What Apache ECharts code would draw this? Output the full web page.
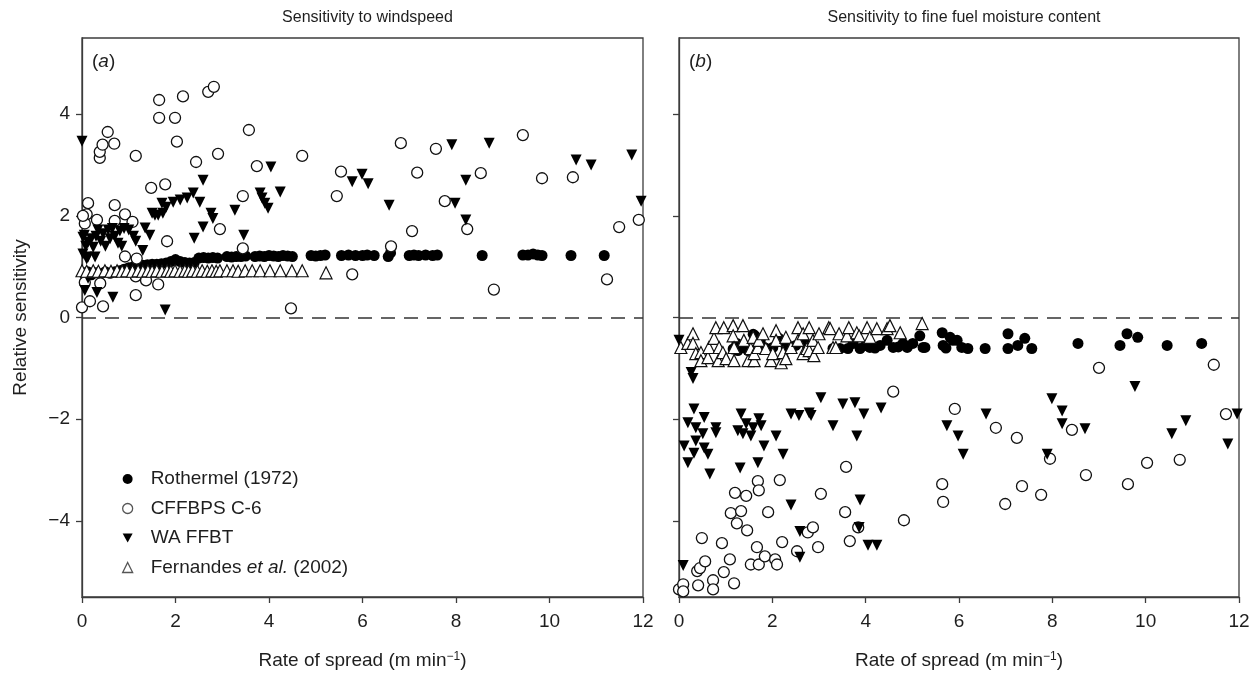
<!DOCTYPE html>
<html>
<head>
<meta charset="utf-8">
<script src="https://cdn.jsdelivr.net/npm/echarts@6/dist/echarts.min.js"></script>
<style>
html,body{margin:0;padding:0;background:#fff;}
#chart{width:1258px;height:676px;}
</style>
</head>
<body>
<div id="chart"></div>
<script>
// ---------- Data ----------
const seriesNames = ['Rothermel (1972)', 'CFFBPS C-6', 'WA FFBT', 'Fernandes et al. (2002)'];
const panelTitles = ['Sensitivity to windspeed', 'Sensitivity to fine fuel moisture content'];
const panelLetters = ['a', 'b'];
const xTicks = [0, 2, 4, 6, 8, 10, 12];
const yTicks = [-4, -2, 0, 2, 4];

// Panel (a): sensitivity to windspeed
const rothermelWind = [[0.05,0.86],[0.12,0.9],[0.2,0.84],[0.3,0.88],[0.4,0.86],[0.5,0.9],[0.6,0.87],[0.7,0.9],[0.8,0.92],[0.9,0.95],[1.0,0.98],[1.1,1.0],[1.2,1.02],[1.3,1.03],[1.4,1.04],[1.5,1.05],[1.6,1.05],[1.7,1.06],[1.8,1.07],[1.9,1.1],[2.0,1.14],[2.1,1.1],[2.2,1.08],[2.3,1.07],[2.4,1.08],[2.5,1.17],[2.6,1.18],[2.7,1.17],[2.8,1.18],[2.9,1.17],[3.1,1.2],[3.2,1.19],[3.3,1.2],[3.4,1.2],[3.5,1.21],[3.7,1.2],[3.8,1.21],[3.9,1.2],[4.0,1.22],[4.1,1.21],[4.2,1.2],[4.3,1.22],[4.4,1.21],[4.5,1.2],[4.9,1.22],[5.0,1.21],[5.1,1.22],[5.2,1.23],[5.55,1.22],[5.7,1.23],[5.85,1.22],[6.0,1.22],[6.1,1.23],[6.25,1.22],[6.55,1.2],[6.6,1.27],[7.0,1.22],[7.1,1.23],[7.2,1.22],[7.35,1.23],[7.5,1.22],[7.6,1.23],[8.56,1.22],[9.43,1.23],[9.54,1.23],[9.65,1.25],[9.75,1.23],[9.84,1.22],[10.46,1.22],[11.17,1.22]];
const cffbpsWind = [[0.0,0.2],[0.17,0.32],[0.45,0.22],[0.06,0.69],[0.39,0.67],[0.13,2.25],[0.1,2.03],[0.06,1.85],[0.32,1.92],[0.02,2.0],[0.38,3.14],[0.38,3.26],[0.44,3.4],[0.55,3.65],[0.69,3.42],[1.15,3.18],[0.7,2.21],[0.7,1.9],[0.92,2.03],[1.08,1.88],[0.92,1.2],[1.17,1.16],[1.15,0.81],[1.15,0.44],[1.37,0.73],[1.63,0.65],[1.48,2.55],[1.78,2.62],[1.82,1.5],[1.65,4.28],[1.65,3.93],[1.99,3.93],[2.03,3.46],[2.16,4.35],[2.44,3.06],[2.7,4.44],[2.82,4.54],[2.91,3.22],[2.95,1.74],[3.44,2.39],[3.44,1.36],[3.57,3.69],[3.74,2.98],[4.47,0.18],[4.71,3.18],[5.45,2.39],[5.54,2.87],[5.78,0.85],[6.61,1.4],[6.82,3.43],[7.17,2.85],[7.06,1.7],[7.57,3.32],[7.76,2.29],[8.24,1.74],[8.53,2.84],[8.81,0.55],[9.43,3.59],[9.84,2.74],[10.5,2.76],[11.23,0.75],[11.49,1.78],[11.91,1.92]];
const waWind = [[0,3.47],[0.02,1.58],[0.05,1.62],[0.08,1.4],[0.13,1.48],[0.02,1.25],[0.1,1.15],[0.13,1.19],[0.2,1.55],[0.24,1.38],[0.28,1.19],[0.3,1.6],[0.34,1.72],[0.4,1.5],[0.45,1.65],[0.5,1.4],[0.56,1.72],[0.6,1.55],[0.65,1.75],[0.7,1.6],[0.77,1.46],[0.81,1.7],[0.85,1.4],[0.9,1.75],[1.0,1.72],[1.1,1.6],[1.15,1.5],[1.3,1.32],[1.35,1.76],[1.45,1.62],[1.5,2.05],[1.56,2.01],[1.63,2.01],[1.71,2.25],[1.73,2.05],[1.8,2.17],[1.95,2.27],[2.1,2.31],[2.25,2.35],[2.38,2.45],[2.4,1.56],[2.52,2.27],[2.59,2.7],[2.59,1.78],[2.76,2.05],[2.8,1.95],[3.27,2.11],[3.46,1.62],[3.81,2.45],[3.85,2.35],[3.91,2.25],[3.98,2.15],[4.04,2.96],[4.24,2.47],[0.06,0.53],[0.13,0.77],[0.32,0.49],[0.66,0.4],[1.78,0.15],[5.78,2.67],[5.99,2.82],[6.12,2.63],[6.57,2.21],[7.91,3.4],[7.98,2.25],[8.21,2.7],[8.21,1.92],[8.71,3.43],[10.57,3.1],[10.89,3.0],[11.76,3.2],[11.96,2.29]];
const fernandesWind = [[0.0,0.92],[0.1,0.91],[0.24,0.92],[0.35,0.91],[0.49,0.92],[0.62,0.91],[0.75,0.92],[0.86,0.91],[0.96,0.92],[1.08,0.91],[1.2,0.92],[1.3,0.91],[1.41,0.92],[1.5,0.91],[1.6,0.92],[1.71,0.91],[1.82,0.92],[1.9,0.91],[1.99,0.92],[2.1,0.91],[2.2,0.92],[2.28,0.91],[2.37,0.92],[2.47,0.91],[2.57,0.92],[2.68,0.91],[2.78,0.92],[2.87,0.91],[2.95,0.92],[3.1,0.92],[3.23,0.92],[3.34,0.91],[3.49,0.92],[3.64,0.92],[3.81,0.92],[4.02,0.92],[4.24,0.92],[4.49,0.92],[4.71,0.92],[5.22,0.88]];

// Panel (b): sensitivity to fine fuel moisture content
const rothermelMoist = [[1.16,-0.62],[1.24,-0.51],[1.26,-0.65],[1.37,-0.59],[1.48,-0.65],[1.59,-0.33],[1.63,-0.36],[1.74,-0.45],[1.85,-0.6],[2.01,-0.59],[2.14,-0.41],[2.23,-0.49],[2.3,-0.62],[2.5,-0.55],[2.7,-0.5],[3.3,-0.61],[3.45,-0.61],[3.62,-0.61],[3.73,-0.51],[3.88,-0.61],[4.0,-0.55],[4.09,-0.59],[4.2,-0.6],[4.31,-0.55],[4.46,-0.45],[4.59,-0.59],[4.7,-0.58],[4.8,-0.51],[4.89,-0.59],[5.01,-0.51],[5.16,-0.36],[5.23,-0.59],[5.27,-0.59],[5.64,-0.3],[5.66,-0.55],[5.72,-0.6],[5.81,-0.39],[5.87,-0.45],[5.96,-0.45],[6.06,-0.59],[6.19,-0.61],[6.56,-0.61],[7.05,-0.32],[7.05,-0.61],[7.26,-0.55],[7.41,-0.41],[7.56,-0.61],[8.55,-0.51],[9.45,-0.55],[9.6,-0.32],[9.83,-0.39],[10.46,-0.55],[11.2,-0.51]];
const cffbpsMoist = [[0.0,-5.35],[0.09,-5.25],[0.09,-5.39],[0.41,-5.27],[0.73,-5.17],[0.73,-5.35],[0.39,-4.99],[0.45,-4.93],[0.56,-4.8],[0.49,-4.34],[0.92,-4.44],[0.96,-5.01],[1.09,-4.76],[1.18,-5.23],[1.2,-3.45],[1.44,-3.51],[1.11,-3.85],[1.33,-3.81],[1.24,-4.05],[1.46,-4.19],[1.69,-3.22],[1.71,-3.4],[1.91,-3.83],[2.16,-3.2],[1.67,-4.52],[1.54,-4.86],[1.71,-4.86],[1.84,-4.7],[2.06,-4.76],[2.1,-4.86],[2.21,-4.42],[2.53,-4.6],[2.76,-4.23],[2.87,-4.13],[2.98,-4.52],[3.04,-3.47],[3.58,-2.94],[3.56,-3.83],[3.66,-4.4],[3.84,-4.13],[4.82,-3.99],[4.59,-1.46],[5.64,-3.28],[5.66,-3.63],[5.91,-1.8],[6.79,-2.17],[7.24,-2.37],[6.99,-3.67],[7.35,-3.32],[7.76,-3.49],[7.95,-2.78],[8.42,-2.21],[8.72,-3.1],[9.0,-0.99],[9.62,-3.28],[10.03,-2.86],[10.73,-2.8],[11.46,-0.93],[11.72,-1.9]];
const waMoist = [[0.0,-0.45],[0.26,-1.08],[0.3,-1.2],[0.32,-1.8],[0.54,-1.97],[0.19,-2.07],[0.36,-2.17],[0.51,-2.29],[0.79,-2.17],[0.79,-2.27],[0.11,-2.53],[0.36,-2.43],[0.54,-2.57],[0.32,-2.67],[0.62,-2.69],[0.19,-2.86],[0.66,-3.08],[0.09,-4.88],[1.33,-1.9],[1.26,-2.23],[1.44,-2.09],[1.59,-2.17],[1.71,-1.99],[1.76,-2.13],[1.37,-2.29],[1.54,-2.33],[1.82,-2.53],[2.08,-2.33],[2.23,-2.69],[1.69,-2.86],[1.31,-2.96],[2.4,-1.9],[2.57,-1.93],[2.79,-1.88],[2.83,-1.93],[3.04,-1.58],[3.3,-2.13],[3.51,-1.7],[3.77,-1.68],[3.96,-1.9],[4.33,-1.78],[3.81,-2.33],[2.4,-3.69],[2.59,-4.21],[2.59,-4.72],[3.88,-3.59],[3.86,-4.13],[4.05,-4.48],[4.24,-4.48],[5.74,-2.13],[5.98,-2.33],[6.09,-2.69],[6.58,-1.9],[7.89,-2.69],[7.99,-1.6],[8.21,-1.84],[8.21,-2.09],[8.7,-2.19],[9.77,-1.36],[10.56,-2.29],[10.86,-2.03],[11.76,-2.49],[11.96,-1.9]];
const fernandesMoist = [[0.04,-0.59],[0.19,-0.51],[0.3,-0.32],[0.3,-0.51],[0.36,-0.71],[0.47,-0.69],[0.47,-0.85],[0.62,-0.79],[0.64,-0.59],[0.75,-0.41],[0.79,-0.2],[0.84,-0.85],[0.86,-0.59],[0.94,-0.69],[0.96,-0.2],[1.01,-0.81],[1.16,-0.16],[1.16,-0.36],[1.18,-0.59],[1.18,-0.85],[1.37,-0.16],[1.39,-0.45],[1.48,-0.85],[1.54,-0.61],[1.59,-0.39],[1.61,-0.85],[1.61,-0.71],[1.69,-0.59],[1.71,-0.45],[1.8,-0.32],[1.86,-0.61],[1.97,-0.85],[2.01,-0.71],[2.08,-0.26],[2.08,-0.45],[2.19,-0.89],[2.23,-0.69],[2.29,-0.81],[2.29,-0.39],[2.4,-0.59],[2.55,-0.2],[2.55,-0.45],[2.66,-0.71],[2.66,-0.32],[2.74,-0.61],[2.79,-0.2],[2.79,-0.65],[2.87,-0.45],[2.89,-0.75],[2.98,-0.59],[3.0,-0.32],[3.21,-0.2],[3.24,-0.22],[3.3,-0.59],[3.36,-0.59],[3.43,-0.32],[3.6,-0.36],[3.64,-0.2],[3.81,-0.3],[3.86,-0.36],[4.03,-0.2],[4.09,-0.39],[4.24,-0.22],[4.46,-0.22],[4.52,-0.16],[4.74,-0.3],[5.21,-0.12]];

const panelData = [
  [rothermelWind, cffbpsWind, waWind, fernandesWind],
  [rothermelMoist, cffbpsMoist, waMoist, fernandesMoist]
];

// ---------- Styles ----------
const FONT = '"Liberation Sans", Arial, Helvetica, sans-serif';
const INK = '#1e1e1e';
const AXIS = '#3c3c3c';
const markerStyles = [
  { symbol: 'circle', symbolSize: 11, symbolRotate: 0, itemStyle: { color: '#000', borderColor: '#000', borderWidth: 0, opacity: 1 } },
  { symbol: 'circle', symbolSize: 11, symbolRotate: 0, itemStyle: { color: '#fff', borderColor: '#111', borderWidth: 1.3, opacity: 1 } },
  { symbol: 'triangle', symbolSize: 11, symbolRotate: 180, itemStyle: { color: '#000', borderColor: '#000', borderWidth: 0, opacity: 1 } },
  { symbol: 'triangle', symbolSize: 12, symbolRotate: 0, itemStyle: { color: '#fff', borderColor: '#111', borderWidth: 1.2, opacity: 1 } }
];
const legendIcons = [
  'circle',
  'circle',
  'path://M0,0 L10,0 L5,9 Z',
  'triangle'
];
const legendItemStyles = [
  { color: '#000', borderWidth: 0 },
  { color: '#fff', borderColor: '#555', borderWidth: 1.3 },
  { color: '#000', borderWidth: 0 },
  { color: '#fff', borderColor: '#555', borderWidth: 1.3 }
];

const grids = [
  { left: 82, top: 38, width: 561, height: 559 },
  { left: 679, top: 38, width: 560, height: 559 }
];

const fmtNum = v => (v < 0 ? '\u2212' + Math.abs(v) : String(v));

const chart = echarts.init(document.getElementById('chart'), null, { renderer: 'canvas' });

const series = [];
panelData.forEach((sets, p) => {
  sets.forEach((data, k) => {
    const s = {
      type: 'scatter',
      name: seriesNames[k],
      xAxisIndex: p,
      yAxisIndex: p,
      data: data,
      symbol: markerStyles[k].symbol,
      symbolSize: markerStyles[k].symbolSize,
      symbolRotate: markerStyles[k].symbolRotate,
      itemStyle: markerStyles[k].itemStyle,
      emphasis: { disabled: true },
      clip: false,
      z: 3 + k
    };
    if (k === 0) {
      s.markLine = {
        silent: true,
        symbol: 'none',
        label: { show: false },
        lineStyle: { type: [14, 9], color: '#333', width: 1.5, opacity: 1 },
        data: [{ yAxis: 0 }],
        z: 1
      };
    }
    series.push(s);
  });
});

const option = {
  animation: false,
  backgroundColor: '#fff',
  textStyle: { fontFamily: FONT, color: INK },
  title: panelTitles.map((t, i) => ({
    text: t,
    left: grids[i].left + grids[i].width / 2,
    top: 5,
    textAlign: 'center',
    textStyle: { fontFamily: FONT, fontSize: 16, fontWeight: 'normal', color: INK }
  })),
  grid: grids.map(g => Object.assign({ show: true, borderColor: AXIS, borderWidth: 1.3, backgroundColor: 'transparent', containLabel: false }, g)),
  xAxis: [0, 1].map(i => ({
    gridIndex: i,
    type: 'value',
    min: 0, max: 12, interval: 2,
    name: 'Rate of spread (m min{sup|\u22121})',
    nameLocation: 'middle',
    nameGap: 54,
    nameTextStyle: {
      fontFamily: FONT, fontSize: 19, color: INK,
      rich: { sup: { fontFamily: FONT, fontSize: 12, verticalAlign: 'top', lineHeight: 12, color: INK } }
    },
    axisLine: { show: true, onZero: false, lineStyle: { color: AXIS, width: 1.3 } },
    axisTick: { show: true, length: 6, lineStyle: { color: AXIS, width: 1.3 } },
    axisLabel: { show: true, margin: 15, fontFamily: FONT, fontSize: 19, color: INK, formatter: fmtNum },
    splitLine: { show: false }
  })),
  yAxis: [0, 1].map(i => ({
    gridIndex: i,
    type: 'value',
    min: -5.5, max: 5.5,
    name: i === 0 ? 'Relative sensitivity' : '',
    nameLocation: 'middle',
    nameGap: 52,
    nameTextStyle: { fontFamily: FONT, fontSize: 19, color: INK },
    axisLine: { show: true, onZero: false, lineStyle: { color: AXIS, width: 1.3 } },
    axisTick: { show: true, length: 6, customValues: yTicks, lineStyle: { color: AXIS, width: 1.3 } },
    axisLabel: { show: i === 0, margin: 12, customValues: yTicks, fontFamily: FONT, fontSize: 19, color: INK, formatter: fmtNum },
    splitLine: { show: false }
  })),
  legend: {
    show: true,
    orient: 'vertical',
    left: 117,
    top: 463,
    itemWidth: 10,
    itemHeight: 10,
    itemGap: 7.5,
    selectedMode: false,
    data: seriesNames.map((n, k) => ({ name: n, icon: legendIcons[k], itemStyle: legendItemStyles[k] })),
    formatter: name => name === 'Fernandes et al. (2002)' ? 'Fernandes {i|et al.} (2002)' : name,
    textStyle: {
      fontFamily: FONT, fontSize: 19, color: INK, lineHeight: 22,
      padding: [0, 0, 0, 13],
      rich: { i: { fontFamily: FONT, fontSize: 19, fontStyle: 'italic', color: INK } }
    }
  },
  graphic: panelLetters.map((l, i) => ({
    type: 'text',
    left: grids[i].left + 10,
    top: 52,
    z: 10,
    style: {
      text: '({i|' + l + '})',
      font: '19px ' + FONT,
      fill: INK,
      rich: { i: { fontFamily: FONT, fontSize: 19, fontStyle: 'italic', fill: INK } }
    }
  })),
  series: series
};

chart.setOption(option);
</script>
</body>
</html>
